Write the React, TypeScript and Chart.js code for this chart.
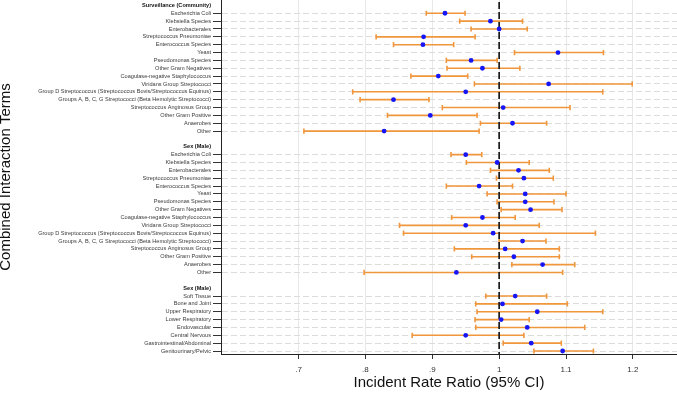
import { useEffect, useRef } from "react";
import { Chart, registerables } from "chart.js";

Chart.register(...registerables);

const FONT = "'Liberation Sans', Arial, Helvetica, sans-serif";

// Section headings, in drawing order
const sectionTitles = ["Surveillance (Community)", "Sex (Male)", "Sex (Male)"];

// Organism terms (used by the first two sections)
const organismTerms = [
  "Escherichia Coli",
  "Klebsiella Species",
  "Enterobacterales",
  "Streptococcus Pneumoniae",
  "Enterococcus Species",
  "Yeast",
  "Pseudomonas Species",
  "Other Gram Negatives",
  "Coagulase-negative Staphylococcus",
  "Viridans Group Streptococci",
  "Group D Streptococcus (Streptococcus Bovis/Streptococcus Equinus)",
  "Groups A, B, C, G Streptococci (Beta Hemolytic Streptococci)",
  "Streptococcus Anginosus Group",
  "Other Gram Positive",
  "Anaerobes",
  "Other",
];

// Surveillance (Community) x organism
const communityIRR = [0.919, 0.987, 1.0, 0.887, 0.886, 1.088, 0.958, 0.975, 0.909, 1.074, 0.95, 0.842, 1.006, 0.897, 1.02, 0.828];
const communityLower = [0.891, 0.941, 0.958, 0.816, 0.842, 1.023, 0.921, 0.922, 0.868, 0.963, 0.781, 0.792, 0.915, 0.833, 0.972, 0.708];
const communityUpper = [0.949, 1.035, 1.042, 0.964, 0.932, 1.156, 0.997, 1.031, 0.953, 1.199, 1.155, 0.895, 1.106, 0.967, 1.071, 0.97];

// Sex (Male) x organism
const sexOrganismIRR = [0.95, 0.997, 1.029, 1.037, 0.97, 1.039, 1.039, 1.047, 0.975, 0.95, 0.991, 1.035, 1.009, 1.022, 1.065, 0.936];
const sexOrganismLower = [0.928, 0.951, 0.987, 0.996, 0.921, 0.982, 0.997, 1.003, 0.929, 0.851, 0.857, 1.0, 0.933, 0.959, 1.019, 0.798];
const sexOrganismUpper = [0.974, 1.045, 1.075, 1.081, 1.02, 1.1, 1.082, 1.094, 1.024, 1.06, 1.144, 1.07, 1.09, 1.09, 1.113, 1.095];

// Sex (Male) x infection site
const siteTerms = [
  "Soft Tissue",
  "Bone and Joint",
  "Upper Respiratory",
  "Lower Respiratory",
  "Endovascular",
  "Central Nervous",
  "Gastrointestinal/Abdominal",
  "Genitourinary/Pelvic",
];
const sexSiteIRR = [1.024, 1.005, 1.057, 1.003, 1.042, 0.95, 1.048, 1.095];
const sexSiteLower = [0.98, 0.965, 0.967, 0.964, 0.965, 0.87, 1.006, 1.052];
const sexSiteUpper = [1.071, 1.102, 1.155, 1.045, 1.128, 1.037, 1.093, 1.141];

const xTicks = [0.7, 0.8, 0.9, 1, 1.1, 1.2];
const referenceIRR = 1;

type Row = { label: string; kind: "header" | "item" | "blank"; est: number; lo: number; hi: number };

const sections = [
  { title: sectionTitles[0], terms: organismTerms, est: communityIRR, lo: communityLower, hi: communityUpper },
  { title: sectionTitles[1], terms: organismTerms, est: sexOrganismIRR, lo: sexOrganismLower, hi: sexOrganismUpper },
  { title: sectionTitles[2], terms: siteTerms, est: sexSiteIRR, lo: sexSiteLower, hi: sexSiteUpper },
];

const rows: Row[] = [];
sections.forEach((s, si) => {
  if (si > 0) rows.push({ label: "", kind: "blank", est: NaN, lo: NaN, hi: NaN });
  rows.push({ label: s.title, kind: "header", est: NaN, lo: NaN, hi: NaN });
  s.terms.forEach((t, i) => rows.push({ label: t, kind: "item", est: s.est[i], lo: s.lo[i], hi: s.hi[i] }));
});

const ORANGE = "#f0963c";
const BLUE = "#1515f5";

const rowKind = (v: unknown) => {
  const r = typeof v === "number" ? rows[v] : undefined;
  return r ? r.kind : "blank";
};

// Confidence interval whiskers plus the dashed line of no effect
const whiskerPlugin = {
  id: "ciWhiskers",
  beforeDatasetsDraw(chart: any) {
    const { ctx, chartArea, scales } = chart;
    const x = scales.x;
    const y = scales.y;
    ctx.save();
    ctx.beginPath();
    ctx.rect(chartArea.left, chartArea.top, chartArea.right - chartArea.left, chartArea.bottom - chartArea.top);
    ctx.clip();
    ctx.strokeStyle = ORANGE;
    ctx.lineWidth = 1.6;
    const cap = 2.6;
    rows.forEach((r, i) => {
      if (r.kind !== "item") return;
      const py = y.getPixelForValue(i);
      const xl = x.getPixelForValue(r.lo);
      const xh = x.getPixelForValue(r.hi);
      ctx.beginPath();
      ctx.moveTo(xl, py);
      ctx.lineTo(xh, py);
      ctx.moveTo(xl, py - cap);
      ctx.lineTo(xl, py + cap);
      ctx.moveTo(xh, py - cap);
      ctx.lineTo(xh, py + cap);
      ctx.stroke();
    });
    const rx = x.getPixelForValue(referenceIRR);
    ctx.setLineDash([7, 3]);
    ctx.strokeStyle = "#1c1c1c";
    ctx.lineWidth = 1.7;
    ctx.beginPath();
    ctx.moveTo(rx, chartArea.top + 2);
    ctx.lineTo(rx, chartArea.bottom);
    ctx.stroke();
    ctx.restore();
  },
};

const fmtTick = (v: number) => {
  const s = Number(v).toFixed(1);
  if (s.endsWith(".0")) return s.slice(0, -2);
  return s.startsWith("0") ? s.slice(1) : s;
};

export default function App() {
  const ref = useRef<HTMLCanvasElement>(null);

  useEffect(() => {
    const canvas = ref.current;
    if (!canvas) return;
    const items = rows
      .map((r, i) => ({ r, i }))
      .filter(({ r }) => r.kind === "item")
      .map(({ r, i }) => ({ x: r.est, y: i }));

    const chart = new Chart(canvas, {
      type: "scatter",
      data: {
        datasets: [
          {
            data: items,
            pointRadius: 2.4,
            pointBorderWidth: 0,
            pointBackgroundColor: BLUE,
            pointBorderColor: BLUE,
          },
        ],
      },
      options: {
        responsive: false,
        animation: false,
        devicePixelRatio: 1,
        events: [],
        layout: { padding: 0, autoPadding: false },
        plugins: { legend: { display: false }, tooltip: { enabled: false } },
        scales: {
          x: {
            type: "linear",
            min: 0.584,
            max: 1.266,
            afterBuildTicks: (s: any) => {
              s.ticks = xTicks.map((v) => ({ value: v }));
            },
            afterFit: (s: any) => {
              s.height = 41;
              s.paddingLeft = 0;
              s.paddingRight = 0;
            },
            ticks: {
              padding: 5.5,
              color: "#333",
              font: { size: 8, family: FONT },
              callback: (v: any) => fmtTick(Number(v)),
            },
            grid: { color: "#e8e8e8", lineWidth: 1, tickColor: "#333", tickLength: 5 },
            border: { color: "#222", width: 1 },
            title: {
              display: true,
              text: "Incident Rate Ratio (95% CI)",
              color: "#111",
              font: { size: 15, family: FONT },
              padding: { top: 0, bottom: 3 },
            },
          },
          y: {
            type: "linear",
            reverse: true,
            min: -0.69,
            max: 44.38,
            afterBuildTicks: (s: any) => {
              s.ticks = rows.map((_, i) => ({ value: i }));
            },
            afterFit: (s: any) => {
              s.width = 221;
              s.paddingTop = 0;
              s.paddingBottom = 0;
            },
            ticks: {
              autoSkip: false,
              padding: 2,
              callback: (v: any) => {
                const r = rows[Number(v)];
                return r ? r.label : "";
              },
              color: (ctx: any) => (rowKind(ctx.tick?.value) === "header" ? "#111" : "#3a3a3a"),
              font: (ctx: any) => ({
                size: 5.6,
                family: FONT,
                weight: rowKind(ctx.tick?.value) === "header" ? "bold" : "normal",
              }),
            },
            grid: {
              color: (ctx: any) => (rowKind(ctx.tick?.value) === "item" ? "#dcdcdc" : "rgba(0,0,0,0)"),
              tickColor: (ctx: any) => (rowKind(ctx.tick?.value) === "item" ? "#333" : "rgba(0,0,0,0)"),
              tickLength: 8,
              lineWidth: 1,
            },
            border: { color: "#222", width: 1, dash: [6, 3] },
            title: {
              display: true,
              text: "Combined Interaction Terms",
              color: "#111",
              font: { size: 15, family: FONT },
              padding: { top: -3.5, bottom: 0 },
            },
          },
        },
      } as any,
      plugins: [whiskerPlugin],
    });
    return () => chart.destroy();
  }, []);

  return (
    <div style={{ position: "fixed", left: 0, top: 0, width: 677, height: 395, background: "#fff" }}>
      <canvas ref={ref} width={677} height={395} style={{ display: "block", width: 677, height: 395 }} />
    </div>
  );
}
